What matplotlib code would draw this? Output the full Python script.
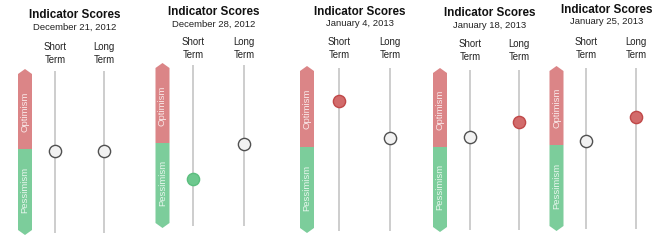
import matplotlib
matplotlib.use("Agg")
import matplotlib.pyplot as plt
from matplotlib.patches import Polygon

plt.rcParams['font.family'] = ['Liberation Sans', 'DejaVu Sans']

# ---- data ----
dates = ["December 21, 2012", "December 28, 2012", "January 4, 2013",
         "January 18, 2013", "January 25, 2013"]
short_term = [-2, -43, 55, 12, 5]      # score, -100 (pessimism) .. +100 (optimism)
long_term = [-2, -1, 11, 30, 34]
column_labels = ["Short\nTerm", "Long\nTerm"]
title = "Indicator Scores"

# ---- layout (pixels) ----
W, H = 660, 243
PX_PER_UNIT = 83.0 / 100.0
bar_c = [25, 162.5, 307, 440, 556.5]
short_x = [55, 193, 339, 470, 586]
long_x = [104, 244, 390, 519, 636]
top_y = [69, 63, 66, 68, 66]
split_y = [149, 143, 147, 147, 145]
bot_y = [235, 228, 233, 232, 231]
title_xy = [(75, 15), (214, 12), (360, 12), (490, 13), (607, 10)]
label_y = [48, 43, 43, 45, 43]

RED = '#DB8587'
GREEN = '#7CCD9B'
LINE = '#C9C9C9'


def marker_style(v):
    if v >= 20:
        return dict(mfc='#D26B6B', mec='#C04848')
    if v <= -20:
        return dict(mfc='#6DC88E', mec='#5BBE7E')
    return dict(mfc='#F2F2F2', mec='#505050')


fig = plt.figure(figsize=(W / 100, H / 100), dpi=100)

for i in range(5):
    x0 = bar_c[i] - 12
    x1 = long_x[i] + 12
    ax = fig.add_axes([x0 / W, 1 - bot_y[i] / H, (x1 - x0) / W, (bot_y[i] - top_y[i]) / H])
    ymax = (split_y[i] - top_y[i]) / PX_PER_UNIT
    ymin = -(bot_y[i] - split_y[i]) / PX_PER_UNIT
    ax.set_xlim(x0, x1)
    ax.set_ylim(ymin, ymax)
    ax.axis('off')

    c = bar_c[i]
    hw = 7
    head = 5 / PX_PER_UNIT
    red = Polygon([(c - hw, 0), (c - hw, ymax - head), (c, ymax), (c + hw, ymax - head), (c + hw, 0)],
                  closed=True, fc=RED, ec='none')
    green = Polygon([(c - hw, 0), (c - hw, ymin + head), (c, ymin), (c + hw, ymin + head), (c + hw, 0)],
                    closed=True, fc=GREEN, ec='none')
    ax.add_patch(red)
    ax.add_patch(green)
    ax.text(c, ymax / 2 - 3, "Optimism", rotation=90, ha='center', va='center',
            color='#F9E8E8', fontsize=6.8)
    ax.text(c, ymin / 2 + 3, "Pessimism", rotation=90, ha='center', va='center',
            color='#E8F7EE', fontsize=6.8)

    lt = 2 / PX_PER_UNIT
    for xx in (short_x[i], long_x[i]):
        ax.plot([xx, xx], [ymin + lt, ymax - lt], color=LINE, lw=1.3, solid_capstyle='butt', zorder=1)

    for xx, v in ((short_x[i], short_term[i]), (long_x[i], long_term[i])):
        ax.plot([xx], [v], marker='o', ms=8.8, mew=1.0, zorder=3, clip_on=False, **marker_style(v))

    tx, ty = title_xy[i]
    fig.text(tx / W, 1 - ty / H, title, ha='center', va='center', fontsize=8.4,
             fontweight='bold', color='#111111')
    fig.text(tx / W, 1 - (ty + 12) / H, dates[i], ha='center', va='center', fontsize=6.8,
             color='#222222')
    for xx, lab in ((short_x[i], column_labels[0]), (long_x[i], column_labels[1])):
        fig.text(xx / W, 1 - (label_y[i] + 5.5) / H, lab, ha='center', va='center',
                 fontsize=6.9, color='#222222', linespacing=1.35)

fig.savefig("out.png", dpi=100, facecolor='white')
